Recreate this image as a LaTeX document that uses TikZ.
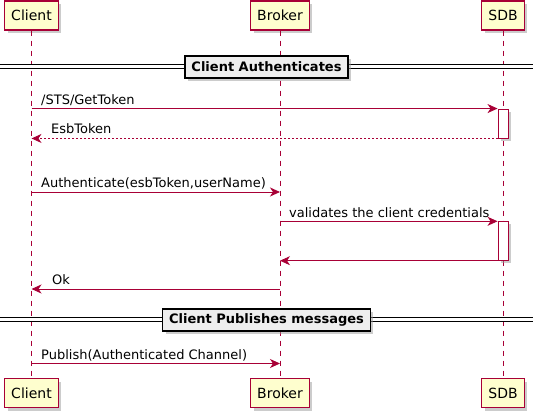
\documentclass[tikz,border=0pt]{standalone}
\usepackage{fontspec}
\setmainfont{DejaVu Sans}
\usetikzlibrary{positioning, arrows.meta, shadows}
\definecolor{umlred}{HTML}{A80036}
\definecolor{umlyellow}{HTML}{FEFECE}
\definecolor{divgrey}{HTML}{EEEEEE}
\tikzstyle{actor} = [rectangle, draw=umlred, fill=umlyellow, line width=1.1pt, minimum height=29pt, inner xsep=6.5pt, font=\fontsize{14}{16}\selectfont, drop shadow={shadow xshift=3pt, shadow yshift=-3pt, fill=black!40, opacity=0.5}]
\tikzstyle{act} = [rectangle, draw=umlred, fill=white, line width=0.9pt, minimum width=10pt, inner sep=0pt, drop shadow={shadow xshift=2.5pt, shadow yshift=-2.5pt, fill=black!40, opacity=0.5}]
\tikzstyle{divider} = [rectangle, draw=black, fill=divgrey, line width=1.4pt, minimum height=22pt, inner xsep=6.5pt, font=\fontsize{13}{15}\selectfont\bfseries, drop shadow={shadow xshift=3pt, shadow yshift=-3pt, fill=black!40, opacity=0.5}]
\tikzstyle{life} = [umlred, line width=0.8pt, dash pattern=on 5pt off 5pt]
\tikzstyle{sep} = [black, line width=1pt, double=white, double distance=2.2pt]
\tikzstyle{msg} = [-{Stealth[length=10pt, width=9pt, inset=3pt]}, umlred, line width=0.9pt]
\tikzstyle{ret} = [msg, dash pattern=on 2pt off 2pt]
\tikzstyle{lbl} = [anchor=base west, inner sep=0pt, font=\fontsize{13}{15}\selectfont]

\begin{document}
\begin{tikzpicture}[x=1pt, y=-1pt]
  \useasboundingbox (0,0) rectangle (533,415);

  % participants, top and bottom
  \node (clientT) [actor] at (31.5,15.5) {Client};
  \node (brokerT) [actor] at (280,15.5) {Broker};
  \node (sdbT) [actor] at (503,15.5) {SDB};
  \node (clientB) [actor] at (31.5,393) {Client};
  \node (brokerB) [actor] at (280,393) {Broker};
  \node (sdbB) [actor] at (503,393) {SDB};

  \draw [life] (clientT.south) -- (clientB.north);
  \draw [life] (brokerT.south) -- (brokerB.north);
  \draw [life] (sdbT.south) -- (sdbB.north);

  % first group
  \draw [sep] (0,66.5) -- (533,66.5);
  \node (authdiv) [divider] at (266.5,67) {Client Authenticates};

  \node (act1) [act, minimum height=29pt] at (sdbT |- 0,123.5) {};
  \draw [msg] (clientT |- act1.north) -- (act1.north west);
  \node (gettoken) [lbl] at (41,104.5) {/STS/GetToken};
  \draw [ret] (act1.south west) -- (clientT |- act1.south);
  \node (esbtoken) [lbl] at (51,133.5) {EsbToken};

  \coordinate (authc) at (clientT |- 0,192);
  \draw [msg] (authc) -- (brokerT |- authc);
  \node (authmsg) [lbl] at (41,187.5) {Authenticate(esbToken,userName)};

  \node (act2) [act, minimum height=38.5pt] at (sdbT |- 0,241) {};
  \draw [msg] (brokerT |- act2.north) -- (act2.north west);
  \node (validate) [lbl] at (289,217) {validates the client credentials};
  \draw [msg] (act2.south west) -- (brokerT |- act2.south);

  \coordinate (okc) at (brokerT |- 0,289);
  \draw [msg] (okc) -- (clientT |- okc);
  \node (okmsg) [lbl] at (52,284.5) {Ok};

  % second group
  \draw [sep] (0,319.5) -- (533,319.5);
  \node (pubdiv) [divider] at (266.5,320) {Client Publishes messages};

  \coordinate (pubc) at (clientT |- 0,363.5);
  \draw [msg] (pubc) -- (brokerT |- pubc);
  \node (pubmsg) [lbl] at (41,359) {Publish(Authenticated Channel)};
\end{tikzpicture}
\end{document}
